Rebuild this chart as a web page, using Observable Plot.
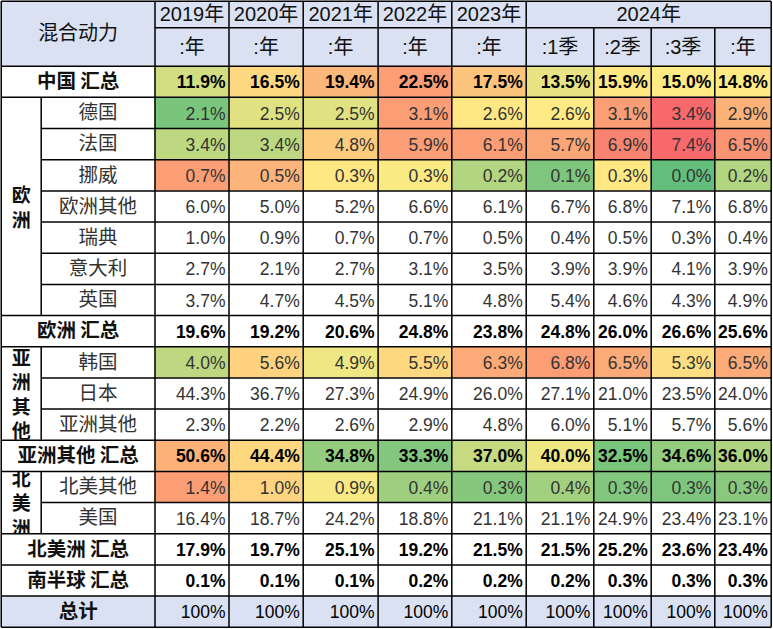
<!DOCTYPE html>
<html><head><meta charset="utf-8">
<script src="https://cdn.jsdelivr.net/npm/d3@7"></script>
<script src="https://cdn.jsdelivr.net/npm/@observablehq/plot@0.6"></script>
<style>html,body{margin:0;padding:0;background:#fff}</style>
</head><body><div id="chart"></div>
<script>
// ---------- data ----------
const cornerTitle = "混合动力";
const yearHeaders = ["2019年","2020年","2021年","2022年","2023年","2024年"];
const periodHeaders = [":年",":年",":年",":年",":年",":1季",":2季",":3季",":年"];
const groupNames = ["欧洲","亚洲其他","北美洲"];

const china          = [11.9,16.5,19.4,22.5,17.5,13.5,15.9,15.0,14.8];
const germany        = [2.1,2.5,2.5,3.1,2.6,2.6,3.1,3.4,2.9];
const france         = [3.4,3.4,4.8,5.9,6.1,5.7,6.9,7.4,6.5];
const norway         = [0.7,0.5,0.3,0.3,0.2,0.1,0.3,0.0,0.2];
const europeOther    = [6.0,5.0,5.2,6.6,6.1,6.7,6.8,7.1,6.8];
const sweden         = [1.0,0.9,0.7,0.7,0.5,0.4,0.5,0.3,0.4];
const italy          = [2.7,2.1,2.7,3.1,3.5,3.9,3.9,4.1,3.9];
const uk             = [3.7,4.7,4.5,5.1,4.8,5.4,4.6,4.3,4.9];
const europeTotal    = [19.6,19.2,20.6,24.8,23.8,24.8,26.0,26.6,25.6];
const korea          = [4.0,5.6,4.9,5.5,6.3,6.8,6.5,5.3,6.5];
const japan          = [44.3,36.7,27.3,24.9,26.0,27.1,21.0,23.5,24.0];
const asiaOther      = [2.3,2.2,2.6,2.9,4.8,6.0,5.1,5.7,5.6];
const asiaOtherTotal = [50.6,44.4,34.8,33.3,37.0,40.0,32.5,34.6,36.0];
const naOther        = [1.4,1.0,0.9,0.4,0.3,0.4,0.3,0.3,0.3];
const usa            = [16.4,18.7,24.2,18.8,21.1,21.1,24.9,23.4,23.1];
const naTotal        = [17.9,19.7,25.1,19.2,21.5,21.5,25.2,23.6,23.4];
const southTotal     = [0.1,0.1,0.1,0.2,0.2,0.2,0.3,0.3,0.3];
const grandTotal     = [100,100,100,100,100,100,100,100,100];

// conditional-format level (-1 green … 0 yellow … +1 red)
const heatChina          = [-0.3,0.15,0.4,0.6,0.3,-0.15,0.03,0,0.01];
const heatGermany        = [-0.85,-0.2,-0.2,0.6,0.02,0,0.6,1,0.45];
const heatFrance         = [-0.42,-0.42,0.25,0.6,0.6,0.53,0.8,1,0.67];
const heatNorway         = [0.6,0.42,0.02,-0.03,-0.5,-0.83,0.02,-1,-0.5];
const heatKorea          = [-0.42,0.19,-0.1,0.15,0.49,0.6,0.5,0.1,0.5];
const heatAsiaOtherTotal = [0.45,0.15,-0.69,-0.8,-0.37,-0.1,-0.85,-0.69,-0.52];
const heatNaOther        = [0.6,0.18,-0.05,-0.62,-0.78,-0.6,-0.8,-0.83,-0.75];

const rows = [
  {label:"中国 汇总", values:china, heat:heatChina, kind:"total"},
  {label:"德国", values:germany, heat:heatGermany, kind:"sub", group:0},
  {label:"法国", values:france, heat:heatFrance, kind:"sub", group:0},
  {label:"挪威", values:norway, heat:heatNorway, kind:"sub", group:0},
  {label:"欧洲其他", values:europeOther, kind:"sub", group:0},
  {label:"瑞典", values:sweden, kind:"sub", group:0},
  {label:"意大利", values:italy, kind:"sub", group:0},
  {label:"英国", values:uk, kind:"sub", group:0},
  {label:"欧洲 汇总", values:europeTotal, kind:"total"},
  {label:"韩国", values:korea, heat:heatKorea, kind:"sub", group:1},
  {label:"日本", values:japan, kind:"sub", group:1},
  {label:"亚洲其他", values:asiaOther, kind:"sub", group:1},
  {label:"亚洲其他 汇总", values:asiaOtherTotal, heat:heatAsiaOtherTotal, kind:"total"},
  {label:"北美其他", values:naOther, heat:heatNaOther, kind:"sub", group:2},
  {label:"美国", values:usa, kind:"sub", group:2},
  {label:"北美洲 汇总", values:naTotal, kind:"total"},
  {label:"南半球 汇总", values:southTotal, kind:"total"},
  {label:"总计", values:grandTotal, kind:"grand"}
];

// ---------- layout ----------
const W = 773, H = 629;
const colEdges = [0.75, 40.7, 154.5, 228.5, 302.7, 377.6, 451.3, 525.7, 593.3, 650.7, 714.3, 770.7];
const headTop = 0.75, headMid = 27.3, headBottom = 65.7, rowH = 31.17;
const rowY = i => headBottom + i * rowH;
const L = colEdges[0], R = colEdges[colEdges.length - 1], B = rowY(rows.length);
const lavender = "#D9E1F2";
const fontStack = "'Liberation Sans','Noto Sans CJK SC',sans-serif";
const cjkStack = "'Noto Sans CJK SC','Liberation Sans',sans-serif";
const fmt = v => v === 100 ? "100%" : v.toFixed(1) + "%";

const groupSpans = groupNames.map((g, gi) => {
  const idx = rows.map((r, i) => r.group === gi ? i : -1).filter(i => i >= 0);
  return {label: g, first: idx[0], last: idx[idx.length - 1]};
});

const cells = rows.flatMap((r, i) => r.values.map((v, j) => ({
  row: i, col: j, value: v, heat: r.heat ? r.heat[j] : null, kind: r.kind
})));
const heatCells = cells.filter(d => d.heat !== null);

// grid segments
const segs = [];
segs.push({x1: L, x2: R, y1: headTop, y2: headTop});
segs.push({x1: colEdges[2], x2: R, y1: headMid, y2: headMid});
segs.push({x1: L, x2: R, y1: headBottom, y2: headBottom});
for (let k = 1; k <= rows.length; k++) {
  const a = rows[k - 1], b = rows[k];
  const inner = b && a.group !== undefined && a.group === b.group;
  segs.push({x1: inner ? colEdges[1] : L, x2: R, y1: rowY(k), y2: rowY(k)});
}
segs.push({x1: L, x2: L, y1: headTop, y2: B});
segs.push({x1: R, x2: R, y1: headTop, y2: B});
segs.push({x1: colEdges[2], x2: colEdges[2], y1: headTop, y2: B});
groupSpans.forEach(g => segs.push({x1: colEdges[1], x2: colEdges[1], y1: rowY(g.first), y2: rowY(g.last + 1)}));
for (let c = 3; c < colEdges.length - 1; c++) {
  const inside2024 = c > 7;
  segs.push({x1: colEdges[c], x2: colEdges[c], y1: inside2024 ? headMid : headTop, y2: B});
}

// header texts
const yearTexts = yearHeaders.map((t, i) => i < 5
  ? {text: t, x: (colEdges[i + 2] + colEdges[i + 3]) / 2}
  : {text: t, x: (colEdges[7] + colEdges[11]) / 2});
const periodTexts = periodHeaders.map((t, j) => ({text: t, x: (colEdges[j + 2] + colEdges[j + 3]) / 2}));

const totalRows = rows.map((r, i) => ({...r, i})).filter(r => r.kind !== "sub");
const subRows = rows.map((r, i) => ({...r, i})).filter(r => r.kind === "sub");

const valueOpts = {
  x: d => colEdges[d.col + 3] - 3.5,
  y: d => rowY(d.row) + rowH / 2 + 1,
  text: d => fmt(d.value),
  textAnchor: "end", fontSize: 17.5
};

const chart = Plot.plot({
  width: W, height: H,
  margin: 0,
  x: {type: "linear", domain: [0, W], range: [0, W], axis: null},
  y: {type: "linear", domain: [0, H], range: [0, H], axis: null},
  color: {type: "linear", domain: [-1, 0, 1], range: ["#63BE7B", "#FFEB84", "#F8696B"], interpolate: "rgb"},
  style: {background: "#fff", fontFamily: fontStack},
  marks: [
    Plot.rect([{}], {x1: L, x2: R, y1: headTop, y2: headBottom, fill: lavender}),
    Plot.rect(totalRows.filter(r => r.kind === "grand"), {x1: L, x2: R, y1: r => rowY(r.i), y2: r => rowY(r.i) + rowH, fill: lavender}),
    Plot.text(groupSpans, {
      x: (colEdges[0] + colEdges[1]) / 2,
      y: g => (rowY(g.first) + rowY(g.last + 1)) / 2,
      text: g => [...g.label].join("\n"),
      lineHeight: 1.29, fontSize: 19, fontWeight: "bold", fill: "#111", fontFamily: cjkStack
    }),
    Plot.rect(totalRows.filter(r => r.kind === "total"), {x1: L + 0.5, x2: colEdges[2], y1: r => rowY(r.i), y2: r => rowY(r.i) + rowH, fill: "white"}),
    Plot.rect(heatCells, {
      x1: d => colEdges[d.col + 2], x2: d => colEdges[d.col + 3],
      y1: d => rowY(d.row), y2: d => rowY(d.row) + rowH,
      fill: "heat"
    }),
    Plot.link(segs, {x1: "x1", y1: "y1", x2: "x2", y2: "y2", stroke: "#000", strokeWidth: 1.5}),
    Plot.text([cornerTitle], {x: (colEdges[0] + colEdges[2]) / 2, y: (headTop + headBottom) / 2, text: d => d, fontSize: 20, fill: "#111", fontFamily: cjkStack}),
    Plot.text(yearTexts, {x: "x", y: (headTop + headMid) / 2 + 0.5, text: "text", fontSize: 20, fill: "#111"}),
    Plot.text(periodTexts, {x: "x", y: (headMid + headBottom) / 2 + 1, text: "text", fontSize: 20, fill: "#111"}),
    Plot.text(totalRows, {x: (colEdges[0] + colEdges[2]) / 2, y: r => rowY(r.i) + rowH / 2, text: "label", fontSize: 19.5, fontWeight: "bold", fill: "#111", fontFamily: cjkStack}),
    Plot.text(subRows, {x: (colEdges[1] + colEdges[2]) / 2, y: r => rowY(r.i) + rowH / 2, text: "label", fontSize: 19.5, fill: "#333", fontFamily: cjkStack}),
    Plot.text(cells.filter(d => d.kind === "total"), {...valueOpts, fontWeight: "bold", fill: "#000"}),
    Plot.text(cells.filter(d => d.kind === "sub"), {...valueOpts, fill: "#333"}),
    Plot.text(cells.filter(d => d.kind === "grand"), {...valueOpts, fill: "#000"})
  ]
});
document.getElementById("chart").appendChild(chart);
</script>
</body></html>
